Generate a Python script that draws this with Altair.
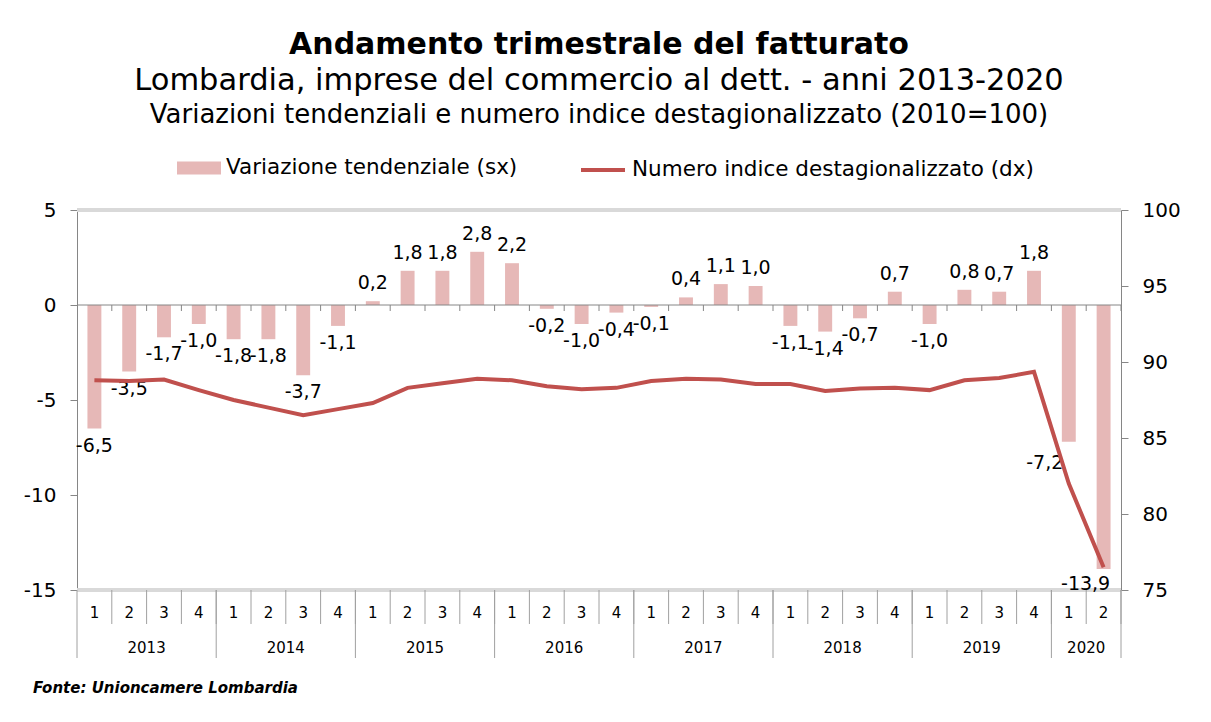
import altair as alt
import pandas as pd

# ---------------- data ----------------
years = [2013] * 4 + [2014] * 4 + [2015] * 4 + [2016] * 4 + [2017] * 4 + [2018] * 4 + [2019] * 4 + [2020] * 2
quarters = [1, 2, 3, 4] * 7 + [1, 2]
var_tend = [-6.5, -3.5, -1.7, -1.0,
            -1.8, -1.8, -3.7, -1.1,
            0.2, 1.8, 1.8, 2.8,
            2.2, -0.2, -1.0, -0.4,
            -0.1, 0.4, 1.1, 1.0,
            -1.1, -1.4, -0.7, 0.7,
            -1.0, 0.8, 0.7, 1.8,
            -7.2, -13.9]
indice = [88.8, 88.75, 88.85, 88.15,
          87.5, 87.0, 86.5, 86.9,
          87.3, 88.3, 88.6, 88.9,
          88.8, 88.4, 88.2, 88.3,
          88.75, 88.9, 88.85, 88.55,
          88.55, 88.1, 88.25, 88.3,
          88.15, 88.8, 88.95, 89.35,
          82.0, 76.5]

left_ticks = [-15, -10, -5, 0, 5]
right_ticks = [75, 80, 85, 90, 95, 100]

TITLE = "Andamento trimestrale del fatturato"
SUB1 = "Lombardia, imprese del commercio al dett. - anni 2013-2020"
SUB2 = "Variazioni tendenziali e numero indice destagionalizzato (2010=100)"
SER_BAR = "Variazione tendenziale (sx)"
SER_LINE = "Numero indice destagionalizzato (dx)"
FOOTER = "Fonte: Unioncamere Lombardia"

keys = [f"{y}-{q}" for y, q in zip(years, quarters)]
labels = [f"{v:.1f}".replace(".", ",") for v in var_tend]
df = pd.DataFrame({"key": keys, "anno": years, "trim": quarters,
                   "vt": var_tend, "idx": indice, "lab": labels,
                   "s_bar": SER_BAR, "s_line": SER_LINE})

year_list = sorted(set(years))
year_last = [k for i, k in enumerate(keys) if i == len(keys) - 1 or years[i + 1] != years[i]]
year_mid = []
for y in year_list:
    ks = [k for k, yy in zip(keys, years) if yy == y]
    year_mid.append(ks[len(ks) // 2 - 1])

# ---------------- style ----------------
W, H = 1044, 380
YL = [min(left_ticks), max(left_ticks)]
YR = [min(right_ticks), max(right_ticks)]
U = (YL[1] - YL[0]) / H          # left-axis units per pixel
FONT = "DejaVu Sans"
AXIS_GREY = "#868686"
SEP_GREY = "#a0a0a0"
BORDER = "#d9d9d9"
BAR_C = "#e6b8b7"
LINE_C = "#c0504d"
HYPHEN_EXPR = "replace(datum.label, '\u2212', '-')"


def xs():
    return alt.Scale(type="band", domain=keys, paddingInner=0, paddingOuter=0)


def X(**kw):
    return alt.X("key:N", scale=xs(), axis=None, **kw)


def yl():
    return alt.Scale(domain=YL, nice=False, zero=False)


def YY(field):
    return alt.Y(field, scale=yl(), axis=None)


base = alt.Chart(df)

borders = alt.Chart(pd.DataFrame({"b": YL})).mark_rule(color=BORDER, strokeWidth=4).encode(
    y=YY("b:Q")
)

zero_line = alt.Chart(pd.DataFrame({"z": [0]})).mark_rule(color=AXIS_GREY, strokeWidth=1).encode(
    y=YY("z:Q")
)

zero_ticks = base.transform_calculate(z0="0", z1=str(-6 * U)).mark_rule(
    color=AXIS_GREY, strokeWidth=1
).encode(x=X(bandPosition=1), y=YY("z0:Q"), y2="z1:Q")

bars = base.mark_bar(width=alt.RelativeBandSize(0.4)).encode(
    x=X(),
    y=alt.Y("vt:Q", scale=yl(),
            axis=alt.Axis(orient="left", values=left_ticks, tickSize=7, tickColor=AXIS_GREY,
                          domainColor=AXIS_GREY, labelFontSize=20, labelPadding=14,
                          labelColor="#000", grid=False, title=None, labelExpr=HYPHEN_EXPR)),
    y2=alt.datum(0),
    color=alt.Color("s_bar:N",
                    scale=alt.Scale(domain=[SER_BAR], range=[BAR_C]),
                    legend=alt.Legend(orient="none", legendX=100, legendY=-64, title=None,
                                      symbolType="M-1,-0.3H1V0.3H-1Z", symbolSize=1936,
                                      symbolStrokeWidth=0, labelFontSize=21.5, labelColor="#000",
                                      labelOffset=5, padding=0, labelLimit=800)),
)


def lab_layer(flt, **kw):
    return base.transform_filter(flt).mark_text(fontSize=19, color="#000", **kw).encode(
        x=X(), y=YY("vt:Q"), text="lab:N",
    )


lab_pos = lab_layer("datum.vt >= 0", baseline="bottom", dy=-8)
lab_neg = lab_layer("datum.vt < 0 && datum.anno < 2020", baseline="top", dy=8)
lab_2020a = lab_layer(f"datum.key == '{keys[-2]}'", baseline="top", dy=12, dx=-24)
lab_2020b = lab_layer(f"datum.key == '{keys[-1]}'", baseline="top", dy=6, dx=-18)

line = base.mark_line(strokeWidth=4).encode(
    x=X(),
    y=alt.Y("idx:Q", scale=alt.Scale(domain=YR, nice=False, zero=False),
            axis=alt.Axis(orient="right", values=right_ticks, tickSize=7, tickColor=AXIS_GREY,
                          domainColor=AXIS_GREY, labelFontSize=20, labelPadding=14,
                          labelColor="#000", grid=False, title=None)),
    color=alt.Color("s_line:N",
                    scale=alt.Scale(domain=[SER_LINE], range=[LINE_C]),
                    legend=alt.Legend(orient="none", legendX=502, legendY=-64, title=None,
                                      symbolType="stroke", symbolSize=1936, symbolStrokeWidth=4,
                                      labelFontSize=21.5, labelColor="#000", labelOffset=5,
                                      padding=0, labelLimit=800)),
)

# quarter separators and labels below the plot
q_sep = base.transform_calculate(q0=str(YL[0]), q1=str(YL[0] - 34 * U)).mark_rule(
    color=SEP_GREY, strokeWidth=1
).encode(x=X(bandPosition=1), y=YY("q0:Q"), y2="q1:Q")

q_lab = base.transform_calculate(qy=str(YL[0] - 23 * U)).mark_text(
    fontSize=15, color="#000", baseline="middle"
).encode(x=X(), y=YY("qy:Q"), text="trim:N")

# year separators (end of each year, plus start of the first one)
sep_calc = dict(s0=str(YL[0]), s1=str(YL[0] - 68 * U))
year_sep = base.transform_filter(
    alt.FieldOneOfPredicate(field="key", oneOf=year_last)
).transform_calculate(**sep_calc).mark_rule(color=SEP_GREY, strokeWidth=1).encode(
    x=X(bandPosition=1), y=YY("s0:Q"), y2="s1:Q"
)
year_sep0 = base.transform_filter(
    alt.FieldOneOfPredicate(field="key", oneOf=keys[:1])
).transform_calculate(**sep_calc).mark_rule(color=SEP_GREY, strokeWidth=1).encode(
    x=X(bandPosition=0), y=YY("s0:Q"), y2="s1:Q"
)

year_lab = base.transform_filter(
    alt.FieldOneOfPredicate(field="key", oneOf=year_mid)
).transform_calculate(ly=str(YL[0] - 58 * U)).mark_text(
    fontSize=15, color="#000", baseline="middle"
).encode(x=X(bandPosition=1), y=YY("ly:Q"), text="anno:N")

sub2 = alt.Chart(pd.DataFrame({"t": [SUB2]})).mark_text(
    fontSize=26, color="#000", baseline="middle", align="center"
).encode(x=alt.value(W / 2), y=alt.value(-95), text="t:N")

foot = alt.Chart(pd.DataFrame({"t": [FOOTER]})).mark_text(
    fontSize=15, color="#000", baseline="middle", align="left", fontWeight="bold",
    fontStyle="italic"
).encode(x=alt.value(-44), y=alt.value(H + 98), text="t:N")

chart = alt.layer(
    borders, bars, zero_line, zero_ticks, lab_pos, lab_neg, lab_2020a, lab_2020b, line,
    q_sep, q_lab, year_sep, year_sep0, year_lab, sub2, foot
).resolve_scale(
    y="independent", color="independent"
).properties(
    width=W, height=H,
    padding={"left": 15, "top": 21, "right": 10, "bottom": 10},
    title=alt.TitleParams(text=TITLE, subtitle=SUB1, fontSize=30, fontWeight="bold",
                          subtitleFontSize=30.5, subtitlePadding=6, anchor="middle", offset=6,
                          color="#000", subtitleColor="#000", font=FONT, subtitleFont=FONT),
).configure(font=FONT).configure_view(stroke=None)

chart.save("out.html", embed_options={"renderer": "svg", "actions": False})
